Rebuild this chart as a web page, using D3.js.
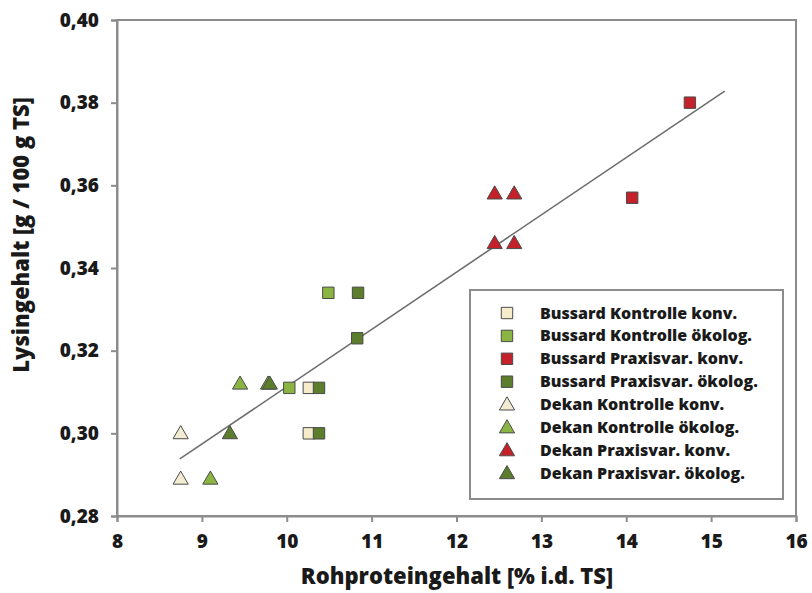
<!DOCTYPE html>
<html lang="de">
<head>
<meta charset="utf-8">
<style>
  body { margin: 0; background: #fff; }
  svg text { font-family: "Open Sans", "DejaVu Sans", sans-serif; font-weight: 800; fill: #1a1a1a; }
</style>
</head>
<body>
<script src="https://d3js.org/d3.v7.min.js"></script>
<script>
    // series names, shapes and fills
    const seriesNames = ["Bussard Kontrolle konv.", "Bussard Kontrolle ökolog.", "Bussard Praxisvar. konv.", "Bussard Praxisvar. ökolog.",
        "Dekan Kontrolle konv.", "Dekan Kontrolle ökolog.", "Dekan Praxisvar. konv.", "Dekan Praxisvar. ökolog."];
    const seriesShapes = ["square", "square", "square", "square", "triangle", "triangle", "triangle", "triangle"];
    const seriesColors = ["#f6eccb", "#8bb543", "#c4212b", "#5b7d2c", "#f3ecd2", "#8bb543", "#c4212b", "#5b7d2c"];

    // protein (x) and lysine (y) values per series
    const seriesX = [
        [10.26, 10.26],
        [10.03, 10.49],
        [14.75, 14.07],
        [10.38, 10.38, 10.84, 10.83],
        [8.75, 8.75],
        [9.45, 9.78, 9.10],
        [12.45, 12.68, 12.45, 12.68],
        [9.80, 9.33]
    ];
    const seriesY = [
        [0.311, 0.300],
        [0.311, 0.334],
        [0.380, 0.357],
        [0.311, 0.300, 0.334, 0.323],
        [0.300, 0.289],
        [0.312, 0.312, 0.289],
        [0.358, 0.358, 0.346, 0.346],
        [0.312, 0.300]
    ];

    // regression line end points
    const trendX = [8.74, 15.16];
    const trendY = [0.2938, 0.3828];

    const xTicks = [8, 9, 10, 11, 12, 13, 14, 15, 16];
    const yTicks = [0.28, 0.30, 0.32, 0.34, 0.36, 0.38, 0.40];

    const width = 812, height = 593;
    const margin = { left: 117, right: 16, top: 20, bottom: 77 };

    const svg = d3.select("body").append("svg")
        .attr("width", width)
        .attr("height", height);

    const x = d3.scaleLinear().domain([8, 16]).range([margin.left, width - margin.right]);
    const y = d3.scaleLinear().domain([0.28, 0.40]).range([height - margin.bottom, margin.top]);

    const axisColor = "#8c8c8c";

    // frame
    svg.append("rect")
        .attr("x", x(8)).attr("y", y(0.40))
        .attr("width", x(16) - x(8)).attr("height", y(0.28) - y(0.40))
        .attr("fill", "none").attr("stroke", axisColor).attr("stroke-width", 2);

    const comma = v => d3.format(".2f")(v).replace(".", ",");

    const xAxis = svg.append("g")
        .attr("transform", "translate(0," + y(0.28) + ")")
        .call(d3.axisBottom(x).tickValues(xTicks).tickSize(6).tickPadding(13).tickFormat(d3.format("d")));
    const yAxis = svg.append("g")
        .attr("transform", "translate(" + x(8) + ",0)")
        .call(d3.axisLeft(y).tickValues(yTicks).tickSize(6).tickPadding(12).tickFormat(comma));

    [xAxis, yAxis].forEach(a => {
        a.select(".domain").attr("stroke", axisColor).attr("stroke-width", 2);
        a.selectAll(".tick line").attr("stroke", axisColor).attr("stroke-width", 2);
        a.selectAll(".tick text").style("font-size", "19px").attr("fill", "#1a1a1a");
    });

    // axis titles
    svg.append("text")
        .attr("x", 457).attr("y", 584)
        .attr("text-anchor", "middle").style("font-size", "22px")
        .text("Rohproteingehalt [% i.d. TS]");
    svg.append("text")
        .attr("transform", "translate(29,235) rotate(-90)")
        .attr("text-anchor", "middle").style("font-size", "22px")
        .text("Lysingehalt [g / 100 g TS]");

    // trend line
    svg.append("line")
        .attr("x1", x(trendX[0])).attr("y1", y(trendY[0]))
        .attr("x2", x(trendX[1])).attr("y2", y(trendY[1]))
        .attr("stroke", "#6e6e6e").attr("stroke-width", 1.6);

    const sq = d3.symbol().type(d3.symbolSquare).size(130);
    const tri = d3.symbol().type(d3.symbolTriangle).size(100);

    seriesNames.forEach((name, i) => {
        svg.append("g").selectAll("path")
            .data(seriesX[i].map((v, j) => [v, seriesY[i][j]]))
            .enter().append("path")
            .attr("d", seriesShapes[i] == "square" ? sq : tri)
            .attr("transform", d => "translate(" + x(d[0]) + "," + (y(d[1]) + (seriesShapes[i] == "square" ? 0 : 1)) + ")")
            .attr("fill", seriesColors[i])
            .attr("stroke", "#4a4a4a").attr("stroke-width", 1);
    });

    // legend
    const legend = svg.append("g");
    legend.append("rect")
        .attr("x", 470).attr("y", 290).attr("width", 313).attr("height", 209)
        .attr("fill", "#fff").attr("stroke", axisColor).attr("stroke-width", 2);

    seriesNames.forEach((name, i) => {
        const ly = 313 + i * 22.9;
        legend.append("path")
            .attr("d", seriesShapes[i] == "square" ? sq : tri)
            .attr("transform", "translate(507," + (ly + (seriesShapes[i] == "square" ? 0 : 1)) + ")")
            .attr("fill", seriesColors[i])
            .attr("stroke", "#4a4a4a").attr("stroke-width", 1);
        legend.append("text")
            .attr("x", 540).attr("y", ly + 5.5)
            .style("font-size", "16px")
            .text(name);
    });
</script>
</body>
</html>
